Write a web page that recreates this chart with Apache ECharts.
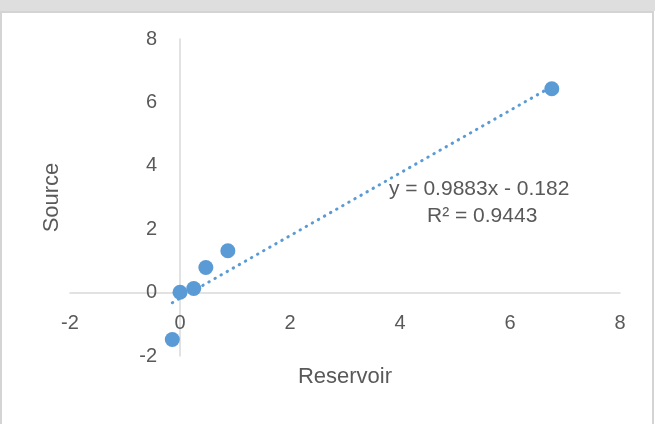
<!DOCTYPE html>
<html>
<head>
<meta charset="utf-8">
<script src="https://cdn.jsdelivr.net/npm/echarts@6/dist/echarts.min.js"></script>
<style>
html,body{margin:0;padding:0;background:#fff;}
#c{width:655px;height:424px;}
</style>
</head>
<body>
<div id="c"></div>
<script>
// Data
const reservoir = [6.76, 0.87, 0.47, 0.25, 0.0, -0.14];
const source    = [6.43, 1.32, 0.79, 0.13, 0.01, -1.48];
const slope = 0.9883;
const intercept = -0.182;
const r2 = 0.9443;
const xTicks = [-2, 0, 2, 4, 6, 8];
const yTicks = [-2, 0, 2, 4, 6, 8];
const xName = 'Reservoir';
const yName = 'Source';

const points = reservoir.map((x, i) => [x, source[i]]);
const xMinData = Math.min(...reservoir), xMaxData = Math.max(...reservoir);
const trend = [[xMinData, slope * xMinData + intercept], [xMaxData, slope * xMaxData + intercept]];

const font = 'Liberation Sans';
const txt = '#595959';
const G = {left: 70, right: 35, top: 39, bottom: 68, W: 655, H: 424};
const gridW = G.W - G.left - G.right, gridH = G.H - G.top - G.bottom;
const xMin = xTicks[0], xMax = xTicks[xTicks.length - 1];
const yMin = yTicks[0], yMax = yTicks[yTicks.length - 1];
// distance from grid edge to the zero line, so the axes sit on zero
const xAxisOffset = -gridH * (0 - yMin) / (yMax - yMin);
const yAxisOffset = -gridW * (0 - xMin) / (xMax - xMin);

const chart = echarts.init(document.getElementById('c'), null, {renderer: 'canvas'});
chart.setOption({
  animation: false,
  backgroundColor: '#ffffff',
  graphic: [
    {type: 'rect', left: 0, top: 0, shape: {width: 655, height: 11}, style: {fill: '#dedede'}, z: -10},
    {type: 'rect', left: 0, top: 11, shape: {x: 0, y: 0, width: 652, height: 420}, style: {fill: '#fff', stroke: '#d4d4d4', lineWidth: 2}, z: -9},
    {type: 'text', left: 389, top: 179, style: {text: 'y = ' + slope + 'x - ' + Math.abs(intercept), fill: txt, fontSize: 21, fontFamily: font}, z: 10},
    {type: 'text', left: 427, top: 206, style: {text: 'R² = ' + r2.toFixed(4), fill: txt, fontSize: 21, fontFamily: font}, z: 10}
  ],
  grid: {left: G.left, right: G.right, top: G.top, bottom: G.bottom, containLabel: false, outerBoundsMode: 'none'},
  xAxis: {
    type: 'value', min: xMin, max: xMax, interval: 2,
    position: 'bottom', offset: xAxisOffset,
    name: xName, nameLocation: 'middle', nameGap: 73, nameMoveOverlap: false,
    nameTextStyle: {color: txt, fontSize: 22, fontFamily: font, verticalAlign: 'top'},
    axisLine: {onZero: false, lineStyle: {color: '#d9d9d9', width: 1.5}},
    axisTick: {show: false},
    splitLine: {show: false},
    axisLabel: {color: txt, fontSize: 20, fontFamily: font, margin: 21}
  },
  yAxis: {
    type: 'value', min: yMin, max: yMax, interval: 2,
    position: 'left', offset: yAxisOffset,
    name: yName, nameLocation: 'middle', nameGap: 117, nameMoveOverlap: false,
    nameTextStyle: {color: txt, fontSize: 22, fontFamily: font},
    axisLine: {onZero: false, lineStyle: {color: '#d9d9d9', width: 1.5}},
    axisTick: {show: false},
    splitLine: {show: false},
    axisLabel: {color: txt, fontSize: 20, fontFamily: font, margin: 23}
  },
  series: [
    {
      type: 'line', data: trend, symbol: 'none', silent: true,
      lineStyle: {color: '#5b9bd5', width: 3, type: [0.5, 6.5], cap: 'round'},
      z: 2
    },
    {
      type: 'scatter', data: points, symbolSize: 15,
      itemStyle: {color: '#5b9bd5', opacity: 1}, z: 3
    }
  ]
});
</script>
</body>
</html>
